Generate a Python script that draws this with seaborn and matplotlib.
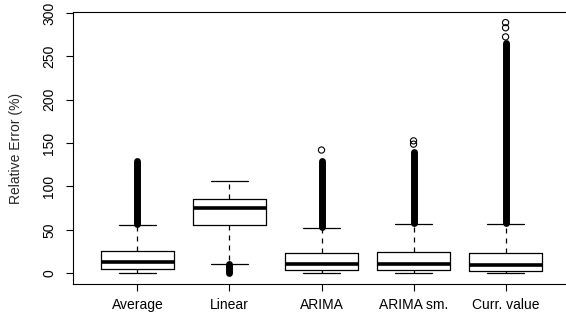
import matplotlib
matplotlib.use("Agg")
import matplotlib.pyplot as plt
import seaborn as sns

# ---- data ----
categories = ["Average", "Linear", "ARIMA", "ARIMA sm.", "Curr. value"]
whisker_low = [0, 11, 0, 0, 0]
q1 = [4.6, 55, 4.2, 4.2, 2.3]
median = [13, 75, 10.7, 11, 9.2]
q3 = [25.4, 85, 23.4, 24.6, 23.8]
whisker_high = [55.7, 106.5, 52, 56.5, 56.5]
# dense (overlapping) outlier runs: from / to
dense_low = [57, 0, 53.5, 57.5, 57.5]
dense_high = [129, 10, 129, 139.6, 265]
# isolated outliers
single_outliers = [[], [], [142], [148.8, 152.6], [272.5, 283, 289]]
y_ticks = [0, 50, 100, 150, 200, 250, 300]

sns.set_theme(style="ticks")
plt.rcParams["font.family"] = ["Liberation Sans", "DejaVu Sans"]

fig = plt.figure(figsize=(5.66, 3.26), dpi=100)
ax = fig.add_axes([73 / 566, 1 - 284 / 326, 497 / 566, 272 / 326])

positions = list(range(1, len(categories) + 1))
stats = []
for i, c in enumerate(categories):
    stats.append(dict(label=c, whislo=whisker_low[i], q1=q1[i], med=median[i],
                      q3=q3[i], whishi=whisker_high[i], fliers=[]))

ax.bxp(stats, positions=positions, widths=0.8, showfliers=False,
       boxprops=dict(color="black", linewidth=0.9),
       whiskerprops=dict(color="black", linewidth=0.9, linestyle=(0, (4, 4))),
       capprops=dict(color="black", linewidth=0.9),
       medianprops=dict(color="black", linewidth=2.6, solid_capstyle="butt"),
       manage_ticks=False)

ax.vlines(positions, dense_low, dense_high, color="black", linewidth=5,
          capstyle="round")
for p, vals in zip(positions, single_outliers):
    if vals:
        ax.scatter([p] * len(vals), vals, s=20, facecolors="none",
                   edgecolors="black", linewidths=0.8, zorder=3)

ax.set_xlim(0.3, 5.7)
ax.set_ylim(-12.5, 301.2)
ax.set_xticks(positions)
ax.set_xticklabels(categories)
ax.set_yticks(y_ticks)
ax.set_yticklabels([str(v) for v in y_ticks], rotation=90, va="center")
ax.set_ylabel("Relative Error (%)", fontsize=10, labelpad=14)
ax.tick_params(axis="both", direction="out", length=5, width=0.8,
               color="black", labelsize=10, labelcolor="black")
ax.tick_params(axis="x", pad=5)
ax.tick_params(axis="y", pad=7)
for s in ax.spines.values():
    s.set_visible(True)
    s.set_color("black")
    s.set_linewidth(0.8)
ax.grid(False)
ax.set_facecolor("white")

fig.savefig("out.png", dpi=100, facecolor="white")
